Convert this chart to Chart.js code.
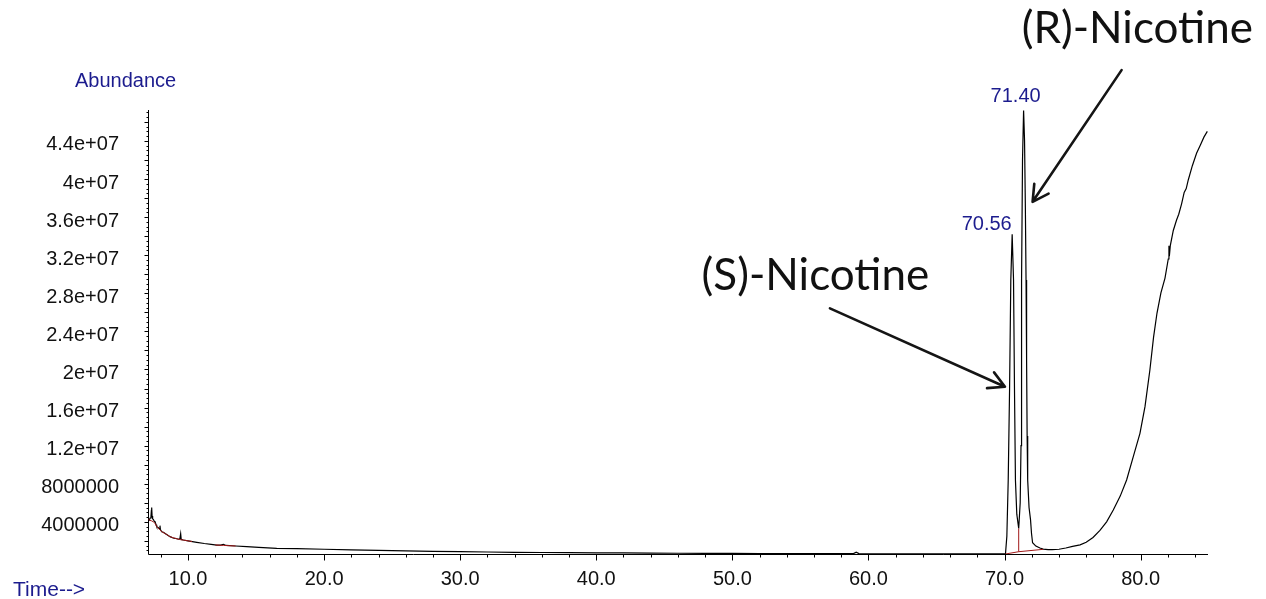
<!DOCTYPE html>
<html><head><meta charset="utf-8">
<script src="https://cdn.jsdelivr.net/npm/chart.js@4"></script>
<style>html,body{margin:0;padding:0;background:#fff}#wrap{position:relative;width:1266px;height:599px}</style>
</head><body><div id="wrap"><canvas id="c" width="1266" height="599"></canvas></div>
<script>
// ---- DATA ----
const traceTime = [7.10,7.16,7.22,7.28,7.31,7.33,7.36,7.40,7.45,7.52,7.58,7.65,7.70,7.80,7.90,7.94,7.97,8.07,8.19,8.40,8.68,8.90,9.04,9.30,9.40,9.46,9.50,9.65,10.00,10.64,11.20,11.70,12.11,12.40,12.60,12.80,13.50,14.31,15.20,16.52,18.00,20.00,22.00,24.00,26.00,28.00,30.00,32.00,34.00,36.00,38.00,40.00,42.00,44.00,46.00,48.00,50.00,52.00,54.00,56.00,58.00,58.90,59.10,59.30,62.00,65.00,68.00,70.00,
 70.07,70.17,70.27,70.37,70.46,70.56,70.66,70.73,70.80,70.90,71.04,71.15,71.21,71.25,71.32,71.40,71.47,71.53,71.58,71.62,71.66,71.70,71.80,71.91,71.98,72.06,72.30,72.60,72.84,73.20,73.50,74.00,74.50,75.00,75.55,76.00,76.50,77.01,77.50,77.99,78.50,78.97,79.46,79.95,80.32,80.68,80.95,81.20,81.49,81.79,82.03,82.08,82.11,82.18,82.40,82.64,82.80,83.01,83.20,83.35,83.50,83.80,84.11,84.40,84.65,84.90];
const traceAbundance = [4.30e6,4.19e6,4.40e6,4.60e6,5.20e6,5.50e6,4.60e6,4.30e6,4.26e6,4.05e6,4.01e6,3.70e6,3.49e6,3.40e6,3.25e6,3.60e6,3.20e6,2.96e6,2.90e6,2.70e6,2.44e6,2.30e6,2.27e6,2.17e6,2.20e6,2.75e6,2.15e6,2.09e6,2.00e6,1.85e6,1.72e6,1.63e6,1.56e6,1.55e6,1.64e6,1.52e6,1.46e6,1.39e6,1.32e6,1.22e6,1.18e6,1.12e6,1.06e6,1.00e6,0.95e6,0.90e6,0.86e6,0.83e6,0.80e6,0.78e6,0.76e6,0.74e6,0.73e6,0.72e6,0.70e6,0.69e6,0.68e6,0.67e6,0.66e6,0.65e6,0.65e6,0.66e6,0.80e6,0.66e6,0.64e6,0.63e6,0.63e6,0.64e6,
 0.65e6,2.5e6,8.4e6,18.0e6,29.4e6,34.2e6,29.4e6,18.0e6,8.4e6,4.8e6,3.3e6,6.0e6,12.0e6,29.4e6,42.0e6,47.2e6,44.0e6,37.0e6,29.4e6,21.0e6,13.0e6,8.4e6,5.5e6,4.2e6,2.8e6,1.8e6,1.45e6,1.25e6,1.14e6,1.08e6,1.07e6,1.12e6,1.25e6,1.42e6,1.58e6,1.85e6,2.35e6,3.10e6,4.00e6,5.24e6,6.70e6,8.39e6,10.84e6,13.29e6,16.09e6,19.94e6,23.4e6,25.9e6,28.05e6,29.6e6,31.6e6,33.0e6,31.9e6,33.0e6,34.6e6,35.7e6,36.3e6,37.4e6,38.6e6,39.0e6,39.9e6,41.4e6,42.7e6,43.6e6,44.4e6,45.0e6];
// integration baselines (red)
const baseTime = [7.10,7.20,7.33,7.45,7.58,7.70,7.90,8.07,8.40,8.68,9.04,9.46,9.65,10.00,10.30,10.31,12.00,12.60,13.50,13.51,70.07,71.04,72.84,72.85,71.04,71.04];
const baseAbundance = [4.25e6,4.15e6,4.10e6,4.00e6,3.85e6,3.50e6,3.20e6,2.96e6,2.70e6,2.44e6,2.27e6,2.12e6,2.09e6,2.00e6,1.93e6,null,1.57e6,1.52e6,1.46e6,null,0.62e6,0.86e6,1.11e6,null,0.86e6,3.3e6];
const yTickValues = [4e6,8e6,12e6,16e6,20e6,24e6,28e6,32e6,36e6,40e6,44e6];
const yTickLabels = ['4000000','8000000','1.2e+07','1.6e+07','2e+07','2.4e+07','2.8e+07','3.2e+07','3.6e+07','4e+07','4.4e+07'];
const xTickValues = [10,20,30,40,50,60,70,80];
const xTickLabels = ['10.0','20.0','30.0','40.0','50.0','60.0','70.0','80.0'];
const peakTimes = [70.56, 71.40];
const peakAbundances = [34.2e6, 47.2e6];
const peakLabels = ['70.56','71.40'];
const compoundNames = ['(S)-Nicotine','(R)-Nicotine'];
// annotation anchors in data coords: text left/baseline, arrow start, arrow tip
const nameTextAt = [[47.74, 28.34e6],[71.26, 54.27e6]];
const arrowFrom = [[57.17, 26.42e6],[78.60, 51.44e6]];
const arrowTo = [[70.03, 18.19e6],[72.06, 37.61e6]];

// ---- STYLE ----
const BLUE = '#1c1c8e';
const labelOffsets = [[-25.5,-4.7],[-8,-8.6]];
const tickFont = {family:"'Liberation Sans', Arial, sans-serif", size:20};

const pts = (xs, ys) => xs.map((t,i)=>({x:t, y:ys[i]}));

const deco = {
  id:'deco',
  beforeDatasetsDraw(chart){
    const {ctx, chartArea:a, scales:{x,y}} = chart;
    ctx.save();
    ctx.strokeStyle = '#000'; ctx.lineWidth = 1;
    const ax = Math.round(a.left) + 0.5, ay = Math.round(a.bottom) + 0.5;
    ctx.beginPath();
    ctx.moveTo(ax, Math.round(a.top)); ctx.lineTo(ax, ay); ctx.lineTo(Math.round(a.right), ay);
    for (let k = 1; k * 5e5 <= y.max; k++) {
      const v = k * 5e5; if (v < y.min) continue;
      const py = Math.round(y.getPixelForValue(v)) + 0.5;
      const len = (k % 4 === 0) ? 4 : 2;
      ctx.moveTo(ax - len, py); ctx.lineTo(ax, py);
    }
    for (let t = 8; t <= x.max; t += 2) {
      const px = Math.round(x.getPixelForValue(t)) + 0.5;
      const len = (t % 10 === 0) ? 6 : 3;
      ctx.moveTo(px, ay); ctx.lineTo(px, ay + len);
    }
    ctx.stroke();
    ctx.restore();
  },
  afterDraw(chart){
    const {ctx, scales:{x,y}} = chart;
    ctx.save();
    ctx.fillStyle = BLUE;
    ctx.textBaseline = 'middle'; ctx.textAlign = 'left';
    ctx.font = "20px 'Liberation Sans', Arial, sans-serif";
    ctx.fillText('Abundance', 75, 81);
    ctx.font = "21px 'Liberation Sans', Arial, sans-serif";
    ctx.fillText('Time-->', 13, 590);
    ctx.font = "20px 'Liberation Sans', Arial, sans-serif";
    ctx.textAlign = 'center'; ctx.textBaseline = 'alphabetic';
    peakTimes.forEach((t,i)=>{
      const px = x.getPixelForValue(t), py = y.getPixelForValue(peakAbundances[i]);
      ctx.fillText(peakLabels[i], px + labelOffsets[i][0], py + labelOffsets[i][1]);
    });
    ctx.fillStyle = '#111';
    ctx.font = "44px Lato, 'Open Sans', sans-serif";
    ctx.textAlign = 'left'; ctx.textBaseline = 'alphabetic';
    compoundNames.forEach((n,i)=>{
      ctx.fillText(n, x.getPixelForValue(nameTextAt[i][0]), y.getPixelForValue(nameTextAt[i][1]));
    });
    ctx.strokeStyle = '#151515'; ctx.lineWidth = 2.6; ctx.lineCap = 'round'; ctx.lineJoin = 'round';
    arrowFrom.forEach((f,i)=>{
      const x1 = x.getPixelForValue(f[0]), y1 = y.getPixelForValue(f[1]);
      const x2 = x.getPixelForValue(arrowTo[i][0]), y2 = y.getPixelForValue(arrowTo[i][1]);
      const ang = Math.atan2(y2-y1, x2-x1), L = 18, h = 0.5;
      ctx.beginPath();
      ctx.moveTo(x1,y1); ctx.lineTo(x2,y2);
      ctx.moveTo(x2 - L*Math.cos(ang-h), y2 - L*Math.sin(ang-h));
      ctx.lineTo(x2,y2);
      ctx.lineTo(x2 - L*Math.cos(ang+h), y2 - L*Math.sin(ang+h));
      ctx.stroke();
    });
    ctx.restore();
  }
};

new Chart(document.getElementById('c'), {
  type:'line',
  data:{datasets:[
    {data:pts(traceTime, traceAbundance), borderColor:'#000', borderWidth:1.2, pointRadius:0, tension:0, order:2},
    {data:pts(baseTime, baseAbundance), borderColor:'#a01818', borderWidth:1, pointRadius:0, tension:0, spanGaps:false, order:1}
  ]},
  options:{
    responsive:false, animation:false, devicePixelRatio:1,
    layout:{padding:{left:0, right:58, top:110, bottom:0}},
    plugins:{legend:{display:false}, tooltip:{enabled:false}},
    scales:{
      x:{type:'linear', position:'bottom', min:7.06, max:84.95,
         grid:{display:false, drawTicks:false}, border:{display:false},
         afterBuildTicks:(s)=>{ s.ticks = xTickValues.map(v=>({value:v})); },
         afterFit:(s)=>{ s.height = 45; },
         ticks:{autoSkip:false, maxRotation:0, padding:13, color:'#111', font:tickFont,
                callback:(v,i)=>xTickLabels[i]}},
      y:{type:'linear', position:'left', min:0.62e6, max:47.25e6,
         grid:{display:false, drawTicks:false}, border:{display:false},
         afterBuildTicks:(s)=>{ s.ticks = yTickValues.map(v=>({value:v})); },
         afterFit:(s)=>{ s.width = 148; },
         ticks:{autoSkip:false, padding:29, labelOffset:4, color:'#111', font:tickFont,
                callback:(v,i)=>yTickLabels[i]}}
    }
  },
  plugins:[deco]
});
</script></body></html>
